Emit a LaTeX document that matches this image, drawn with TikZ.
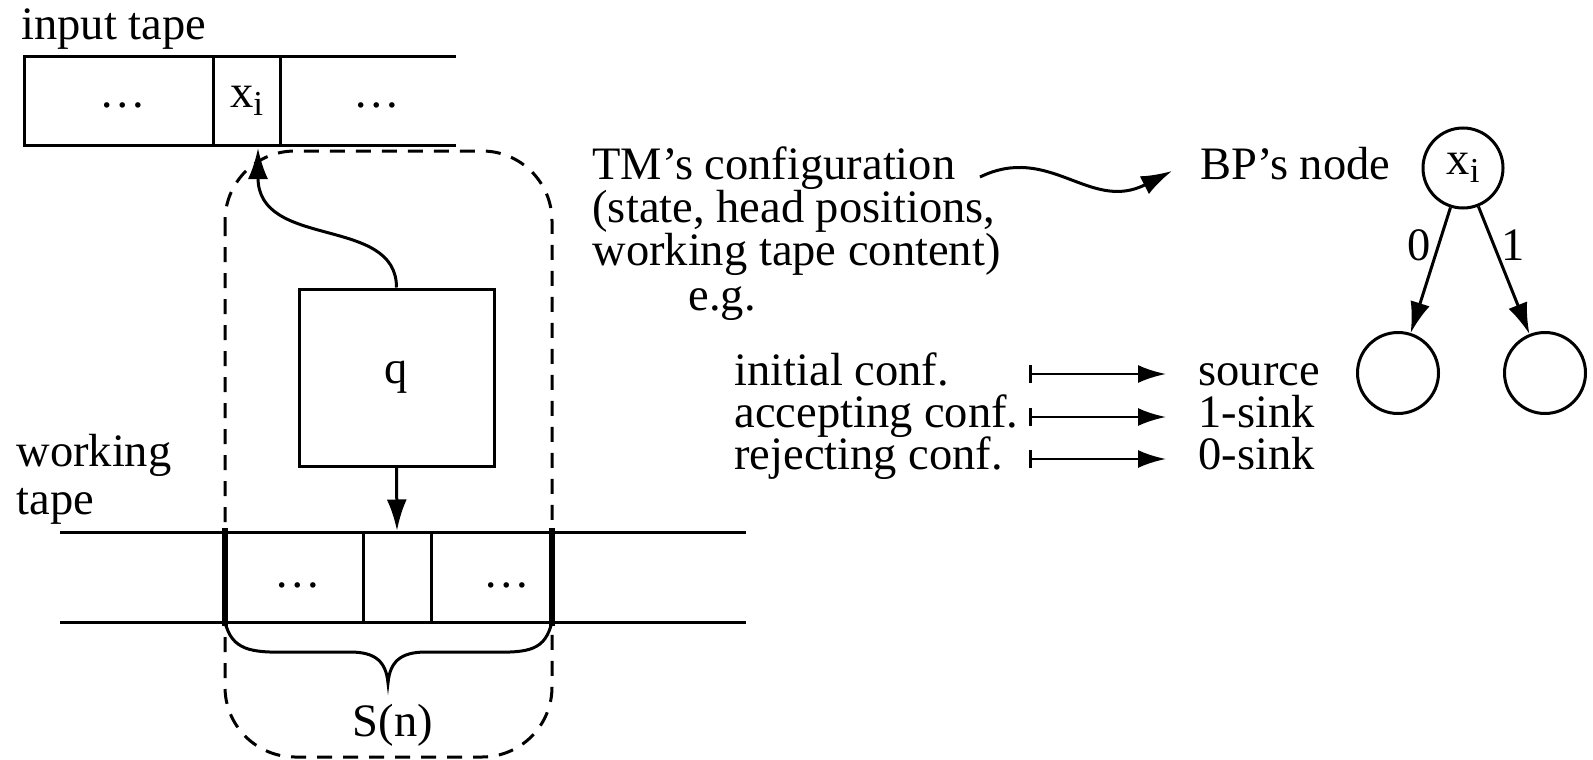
\documentclass[tikz,border=0pt]{standalone}
\usepackage{fontspec}
\setmainfont{Liberation Serif}
\usetikzlibrary{arrows.meta}
\newcommand{\xsub}{x\raisebox{-8pt}{\fontsize{35}{35}\selectfont i}}
\begin{document}
\begin{tikzpicture}[x=1pt,y=-1pt,line width=3pt,
  every node/.style={font=\fontsize{46.5}{42}\selectfont},
  txt/.style={anchor=base west,inner sep=0pt},
  tip/.style={-{Latex[length=31pt,width=20pt]}},
  mapsto/.style={{Bar[width=18pt,line width=2.8pt]}-{Latex[length=28pt,width=18pt]},line width=2.8pt},
  cell/.style={draw,inner sep=0pt},
  bpnode/.style={circle,draw,inner sep=0pt}]
\useasboundingbox (0,0) rectangle (1593,760);
% input tape
\node[txt] (inlab) at (20,40) {input tape};
\draw (456,57) -- (24,57) -- (24,145) -- (456,145);
\node[cell,minimum width=67pt,minimum height=88pt] (xc) at (246.5,101) {\xsub};
\node (d1) at (123,105) {\ldots};
\node (d2) at (377,105) {\ldots};
% dashed region
\draw[dash pattern=on 15pt off 11pt,rounded corners=70pt] (225,151) rectangle (552,757);
% state box
\node[cell,minimum width=195pt,minimum height=177pt] (q) at (396.5,377.5) {q};
\coordinate (hd) at (258,148);
\draw[tip] (q.north) .. controls (396.5,215) and (258,250) .. (hd);
% working tape
\node[txt] (wl1) at (15,466) {working};
\node[txt] (wl2) at (15,514) {tape};
\draw (60,532) -- (746,532) (60,622) -- (746,622);
\draw[line width=5.5pt] (225,528) -- (225,626) (552,528) -- (552,626);
\node[cell,minimum width=68pt,minimum height=90pt] (wc) at (397,577) {};
\node (d3) at (298,585) {\ldots};
\node (d4) at (507,585) {\ldots};
\draw[tip] (q.south) -- (wc.north);
% brace
\draw (225,622) .. controls (232,650) and (250,653) .. (290,652) -- (350,652)
  .. controls (376,652) and (386,662) .. (388,683)
  .. controls (390,662) and (400,652) .. (426,652) -- (490,652)
  .. controls (530,653) and (545,650) .. (552,622);
\node (sn) at (393,725) {S(n)};
% configuration text
\node[txt] (tm) at (591,179) {TM’s configuration};
\node[txt] (l2) at (591,222) {(state, head positions,};
\node[txt] (l3) at (591,265) {working tape content)};
\node[txt] (eg) at (687,310) {e.g.};
\node[txt] (ic) at (733,385) {initial conf.};
\node[txt] (ac) at (733,427) {accepting conf.};
\node[txt] (rc) at (733,469) {rejecting conf.};
\node[txt] (so) at (1197,385) {source};
\node[txt] (s1) at (1197,427) {1-sink};
\node[txt] (s0) at (1197,469) {0-sink};
\node[txt] (bp) at (1199,179) {BP’s node};
\coordinate (w1) at (980,177);
\coordinate (w2) at (1172,171);
\draw[tip] (w1) .. controls (1050,143) and (1090,213) .. (w2);
\coordinate (a1) at (1029,374); \coordinate (b1) at (1166,374);
\coordinate (a2) at (1029,417); \coordinate (b2) at (1166,417);
\coordinate (a3) at (1029,459); \coordinate (b3) at (1166,459);
\draw[mapsto] (a1) -- (b1);
\draw[mapsto] (a2) -- (b2);
\draw[mapsto] (a3) -- (b3);
% BP nodes
\node[bpnode,minimum size=80pt] (top) at (1463,168) {\xsub};
\node[bpnode,minimum size=81pt] (bl) at (1398,373) {};
\node[bpnode,minimum size=81pt] (br) at (1545,373) {};
\draw[tip] (top) -- node[pos=0.3,left,inner sep=6pt] {0} (bl);
\draw[tip] (top) -- node[pos=0.3,right,inner sep=6pt] {1} (br);
\end{tikzpicture}
\end{document}
